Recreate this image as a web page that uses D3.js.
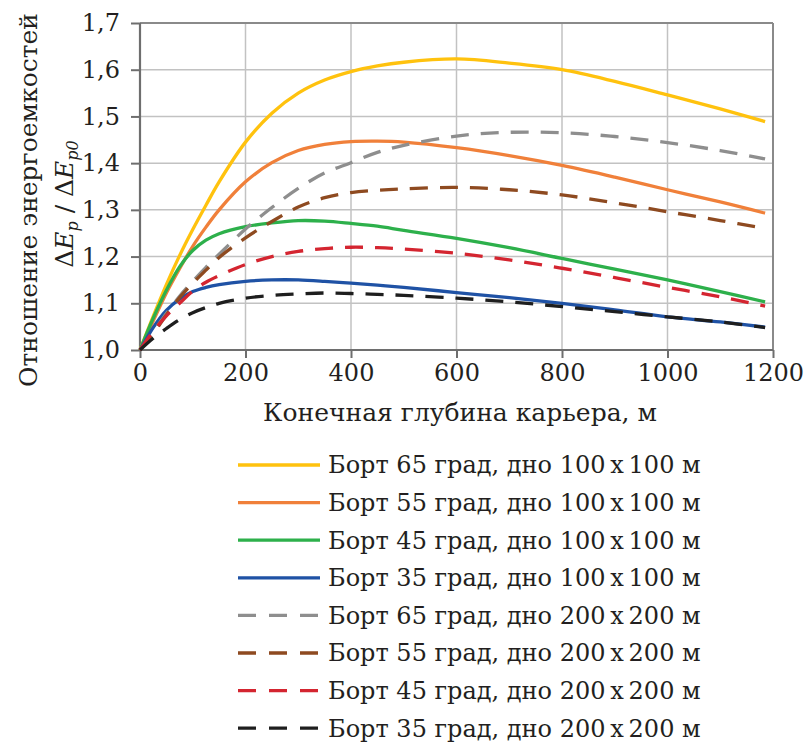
<!DOCTYPE html>
<html><head><meta charset="utf-8">
<script src="https://cdn.jsdelivr.net/npm/d3@7"></script>
<style>html,body{margin:0;padding:0;background:#fff;} svg{display:block;}</style>
</head><body>
<svg id="chart" width="810" height="748"></svg>
<script>
// ---- data ----
const depth = [0,25,50,75,100,125,150,200,250,300,350,400,450,500,600,700,800,900,1000,1100,1185];
const s65_100 = [1.0,1.072,1.14,1.202,1.258,1.31,1.36,1.445,1.507,1.55,1.578,1.596,1.608,1.616,1.623,1.614,1.600,1.575,1.546,1.516,1.489];
const s55_100 = [1.0,1.062,1.122,1.174,1.222,1.263,1.3,1.36,1.401,1.427,1.44,1.446,1.447,1.445,1.433,1.416,1.395,1.37,1.343,1.317,1.293];
const s45_100 = [1.0,1.068,1.128,1.178,1.213,1.235,1.249,1.264,1.272,1.277,1.276,1.271,1.265,1.256,1.239,1.219,1.196,1.173,1.15,1.125,1.103];
const s35_100 = [1.0,1.048,1.085,1.109,1.125,1.134,1.14,1.147,1.15,1.15,1.147,1.143,1.139,1.134,1.123,1.112,1.10,1.086,1.071,1.06,1.049];
const s65_200 = [1.0,1.038,1.078,1.115,1.147,1.177,1.205,1.259,1.305,1.346,1.379,1.401,1.423,1.438,1.458,1.466,1.465,1.457,1.444,1.427,1.409];
const s55_200 = [1.0,1.035,1.075,1.112,1.143,1.171,1.198,1.24,1.275,1.306,1.326,1.337,1.342,1.345,1.348,1.343,1.332,1.315,1.296,1.277,1.26];
const s45_200 = [1.0,1.04,1.073,1.1,1.126,1.145,1.159,1.183,1.2,1.211,1.217,1.22,1.219,1.216,1.207,1.193,1.175,1.155,1.134,1.114,1.094];
const s35_200 = [1.0,1.025,1.046,1.065,1.08,1.091,1.1,1.111,1.117,1.12,1.122,1.121,1.119,1.117,1.111,1.103,1.093,1.082,1.071,1.06,1.048];
const seriesNames = [
  "Борт 65 град, дно 100\u2009x\u2009100 м",
  "Борт 55 град, дно 100\u2009x\u2009100 м",
  "Борт 45 град, дно 100\u2009x\u2009100 м",
  "Борт 35 град, дно 100\u2009x\u2009100 м",
  "Борт 65 град, дно 200\u2009x\u2009200 м",
  "Борт 55 град, дно 200\u2009x\u2009200 м",
  "Борт 45 град, дно 200\u2009x\u2009200 м",
  "Борт 35 град, дно 200\u2009x\u2009200 м"
];
const seriesValues = [s65_100,s55_100,s45_100,s35_100,s65_200,s55_200,s45_200,s35_200];
const seriesColors = ["#FFC20E","#F0803A","#2DB04B","#1F52A5","#8E8E8E","#8E4A20","#D42530","#1E1E1E"];
const seriesDashed = [false,false,false,false,true,true,true,true];
const xTicks = [0,200,400,600,800,1000,1200];
const yTicks = [1.0,1.1,1.2,1.3,1.4,1.5,1.6,1.7];
const xTitle = "Конечная глубина карьера, м";
const yTitle1 = "Отношение энергоемкостей";

// ---- chart ----
const svg = d3.select("#chart");
const FONT = "'DejaVu Serif', serif";
const TXT = "#231f20";
const x = d3.scaleLinear().domain([0,1200]).range([140,773]);
const y = d3.scaleLinear().domain([1.0,1.7]).range([350,23]);

// grid
svg.append("g").selectAll("line").data(xTicks.slice(1,-1)).join("line")
  .attr("x1",d=>x(d)).attr("x2",d=>x(d)).attr("y1",y(1.0)).attr("y2",y(1.7))
  .attr("stroke","#c2c2c2").attr("stroke-width",1.5);
svg.append("g").selectAll("line").data(yTicks.slice(1,-1)).join("line")
  .attr("y1",d=>y(d)).attr("y2",d=>y(d)).attr("x1",x(0)).attr("x2",x(1200))
  .attr("stroke","#c2c2c2").attr("stroke-width",1.5);
// frame top/right
svg.append("line").attr("x1",x(0)).attr("x2",x(1200)).attr("y1",y(1.7)).attr("y2",y(1.7))
  .attr("stroke","#8a8a8a").attr("stroke-width",2);
svg.append("line").attr("x1",x(1200)).attr("x2",x(1200)).attr("y1",y(1.7)).attr("y2",y(1.0))
  .attr("stroke","#8a8a8a").attr("stroke-width",2);

// axes
const fmt = d => d3.format(".1f")(d).replace(".",",");
const gx = svg.append("g").attr("transform",`translate(0,${y(1.0)})`)
  .call(d3.axisBottom(x).tickValues(xTicks).tickSize(8).tickPadding(6).tickFormat(d3.format("d")));
const gy = svg.append("g").attr("transform",`translate(${x(0)},0)`)
  .call(d3.axisLeft(y).tickValues(yTicks).tickSize(9).tickPadding(11).tickFormat(fmt));
[gx,gy].forEach(g=>{
  g.select(".domain").attr("stroke","#6e6e6e").attr("stroke-width",2.2);
  g.selectAll(".tick line").attr("stroke","#6e6e6e").attr("stroke-width",2);
  g.selectAll(".tick text").attr("font-family",FONT).attr("font-size",24).attr("fill",TXT);
});
gy.select(".domain").attr("d",`M0,${y(1.7)}V${y(1.0)}`);
gx.select(".domain").attr("d",`M${x(0)},0H${x(1200)}`);

// lines
const line = d3.line().x((d,i)=>x(depth[i])).y(d=>y(d)).curve(d3.curveCatmullRom.alpha(0.5));
const gl = svg.append("g");
seriesValues.forEach((vals,i)=>{
  gl.append("path").datum(vals).attr("d",line).attr("fill","none")
    .attr("stroke",seriesColors[i]).attr("stroke-width",3.3)
    .attr("stroke-dasharray",seriesDashed[i]?"18,12":null);
});

// axis titles
svg.append("text").attr("x",460).attr("y",421).attr("text-anchor","middle")
  .attr("font-family",FONT).attr("font-size",25).attr("fill",TXT).text(xTitle);
svg.append("text").attr("transform","translate(37,200) rotate(-90)").attr("text-anchor","middle")
  .attr("font-family",FONT).attr("font-size",25).attr("fill",TXT).text(yTitle1);
const t2 = svg.append("text").attr("transform","translate(73,204) rotate(-90)").attr("text-anchor","middle")
  .attr("font-family",FONT).attr("font-size",25).attr("fill",TXT);
t2.append("tspan").text("Δ");
t2.append("tspan").attr("font-style","italic").text("E");
t2.append("tspan").attr("font-style","italic").attr("font-size",16).attr("dy",5).text("p");
t2.append("tspan").attr("dy",-5).text(" / Δ");
t2.append("tspan").attr("font-style","italic").text("E");
t2.append("tspan").attr("font-style","italic").attr("font-size",16).attr("dy",5).text("p0");

// legend
const lg = svg.append("g");
seriesNames.forEach((name,i)=>{
  const cy = 465 + i*37.6;
  lg.append("line").attr("x1",238).attr("x2",320).attr("y1",cy).attr("y2",cy)
    .attr("stroke",seriesColors[i]).attr("stroke-width",3.3)
    .attr("stroke-dasharray",seriesDashed[i]?"18,13":null);
  lg.append("text").attr("x",328).attr("y",cy).attr("dy","0.35em")
    .attr("font-family",FONT).attr("font-size",24).attr("fill",TXT).text(name);
});
</script>
</body></html>
